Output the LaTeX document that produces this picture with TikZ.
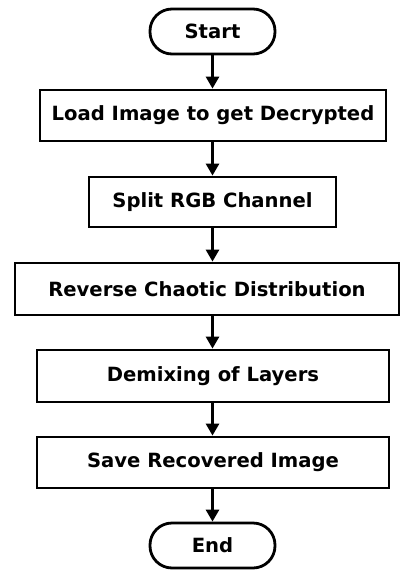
\documentclass[tikz,border=0pt]{standalone}
\usepackage{fontspec}
\setmainfont{DejaVu Sans}
\usetikzlibrary{arrows.meta}
\begin{document}
\begin{tikzpicture}[x=1pt,y=-1pt,
  txt/.style={font=\bfseries\fontsize{19.6}{22}\selectfont},
  term/.style={draw,line width=2.8pt,rounded corners=22pt,minimum width=125pt,minimum height=45pt,inner sep=0pt,txt},
  proc/.style={draw,line width=2.8pt,minimum height=51pt,inner sep=0pt,txt},
  arr/.style={line width=2.8pt,-{Triangle[length=12pt,width=13pt]}}]
\useasboundingbox (0,0) rectangle (400,570);
\node[term] (start) at (212.5,31.5) {Start};
\node[proc,minimum width=346pt] (load) at (213,115.5) {Load Image to get Decrypted};
\node[proc,minimum width=247pt,minimum height=50pt] (split) at (212.5,202) {Split RGB Channel};
\node[proc,minimum width=384pt,minimum height=52pt] (rev) at (207,289) {Reverse Chaotic Distribution};
\node[proc,minimum width=352pt,minimum height=52pt] (demix) at (213,376) {Demixing of Layers};
\node[proc,minimum width=352pt] (save) at (213,462.5) {Save Recovered Image};
\node[term] (end) at (212.5,545.5) {End};
\draw[arr] (start) -- (start |- load.north);
\draw[arr] (load.south -| start) -- (start |- split.north);
\draw[arr] (split.south -| start) -- (start |- rev.north);
\draw[arr] (rev.south -| start) -- (start |- demix.north);
\draw[arr] (demix.south -| start) -- (start |- save.north);
\draw[arr] (save.south -| start) -- (end);
\end{tikzpicture}
\end{document}
